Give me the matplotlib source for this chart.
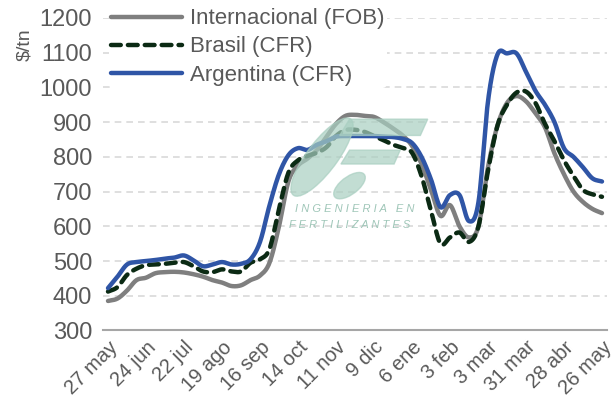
import numpy as np
import matplotlib
matplotlib.use("Agg")
import matplotlib.pyplot as plt
from matplotlib.patches import Polygon, Ellipse

# semanas (etiquetas cada 4 semanas)
tick_labels = ["27 may", "24 jun", "22 jul", "19 ago", "16 sep", "14 oct", "11 nov",
               "9 dic", "6 ene", "3 feb", "3 mar", "31 mar", "28 abr", "26 may"]

internacional = [385, 392, 415, 445, 452, 465, 468, 469, 467, 462, 455, 445, 438, 428,
                 430, 445, 458, 495, 600, 730, 775, 795, 820, 858, 895, 918, 921, 918,
                 915, 900, 882, 862, 832, 780, 705, 630, 661, 600, 568, 600, 770, 890,
                 955, 975, 960, 925, 885, 810, 750, 700, 670, 650, 638]

brasil = [412, 425, 460, 478, 488, 490, 492, 495, 497, 485, 470, 468, 476, 470,
          470, 495, 505, 535, 650, 755, 790, 803, 812, 828, 860, 877, 878, 872,
          860, 848, 835, 826, 812, 745, 645, 550, 568, 582, 555, 600, 760, 890,
          950, 985, 988, 955, 895, 845, 790, 745, 705, 692, 685]

argentina = [422, 455, 490, 497, 500, 503, 507, 510, 516, 502, 485, 490, 497, 490,
             492, 505, 555, 660, 750, 805, 825, 820, 835, 845, 858, 860, 860, 860,
             860, 858, 857, 852, 840, 800, 735, 655, 690, 690, 615, 670, 960, 1095,
             1098, 1098, 1045, 990, 950, 900, 825, 800, 770, 738, 729]

semanas = np.arange(len(internacional))


# linea suavizada tipo excel (catmull-rom entre los puntos)
def suave(x, y, n=12):
    x = np.asarray(x, float)
    y = np.asarray(y, float)
    xp = np.concatenate([[2*x[0]-x[1]], x, [2*x[-1]-x[-2]]])
    yp = np.concatenate([[2*y[0]-y[1]], y, [2*y[-1]-y[-2]]])
    xs, ys = [], []
    t = np.linspace(0, 1, n, endpoint=False)
    for i in range(1, len(xp)-2):
        for arr, out in ((xp, xs), (yp, ys)):
            p0, p1, p2, p3 = arr[i-1], arr[i], arr[i+1], arr[i+2]
            out.extend(0.5*((2*p1) + (-p0+p2)*t + (2*p0-5*p1+4*p2-p3)*t**2
                            + (-p0+3*p1-3*p2+p3)*t**3))
    xs.append(x[-1])
    ys.append(y[-1])
    return np.array(xs), np.array(ys)


plt.rcParams['font.family'] = ['Liberation Sans', 'DejaVu Sans']
txt = '#595959'

fig = plt.figure(figsize=(6.11, 4.08), dpi=100)
ax = fig.add_axes([0.169, 0.19, 0.824, 0.766])

# marca de agua
wm = '#a9cfc1'
fig.patches.append(Polygon([[0.572, 0.708], [0.700, 0.708], [0.688, 0.668], [0.556, 0.668]],
                           closed=True, transform=fig.transFigure, color=wm, alpha=0.7, zorder=0))
fig.patches.append(Polygon([[0.572, 0.632], [0.655, 0.632], [0.645, 0.598], [0.558, 0.598]],
                           closed=True, transform=fig.transFigure, color=wm, alpha=0.7, zorder=0))
fig.patches.append(Ellipse((0.527, 0.615), 0.055, 0.21, angle=-25, transform=fig.transFigure,
                           color=wm, alpha=0.7, zorder=0))
fig.patches.append(Ellipse((0.572, 0.545), 0.035, 0.075, angle=-35, transform=fig.transFigure,
                           color=wm, alpha=0.7, zorder=0))
fig.text(0.483, 0.48, "I N G E N I E R I A   E N", color='#9fc6b8', fontsize=8,
         style='italic', zorder=0)
fig.text(0.473, 0.44, "F E R T I L I Z A N T E S", color='#9fc6b8', fontsize=8,
         style='italic', zorder=0)

x1, y1 = suave(semanas, internacional)
x2, y2 = suave(semanas, brasil)
x3, y3 = suave(semanas, argentina)
ax.plot(x1, y1, color='#7f7f7f', lw=3.2, label='Internacional (FOB)',
        solid_capstyle='round', zorder=3)
ax.plot(x2, y2, color='#0b2a14', lw=3.2, ls=(0, (2.2, 1.6)), label='Brasil (CFR)',
        dash_capstyle='round', zorder=4)
ax.plot(x3, y3, color='#2f55a6', lw=3.2, label='Argentina (CFR)',
        solid_capstyle='round', zorder=5)

ax.set_xlim(-0.5, len(semanas) - 0.5)
ax.set_ylim(300, 1200)
ax.set_yticks(np.arange(300, 1201, 100))
ax.set_xticks(semanas[::4])
ax.set_xticklabels(tick_labels, rotation=45, ha='right', rotation_mode='anchor')
ax.tick_params(axis='both', length=0, colors=txt, labelsize=14.5)
ax.tick_params(axis='y', labelsize=17, pad=8)
ax.tick_params(axis='x', pad=5)
ax.grid(axis='y', color='#d9d9d9', ls=(0, (4, 3)), lw=1.2, zorder=1)
ax.set_axisbelow(True)
for s in ['top', 'right', 'left']:
    ax.spines[s].set_visible(False)
ax.spines['bottom'].set_color('#a6a6a6')
ax.spines['bottom'].set_linewidth(1.5)
ax.patch.set_alpha(0)

fig.text(0.027, 0.89, "$/tn", rotation=90, color=txt, fontsize=14, ha='left', va='center')

leg = ax.legend(loc='upper left', bbox_to_anchor=(0.178, 0.985), bbox_transform=fig.transFigure,
                frameon=True, fontsize=16, handlelength=3.2, handletextpad=0.35,
                labelspacing=0.32, borderpad=0.1, borderaxespad=0.0)
leg.get_frame().set_edgecolor('none')
leg.get_frame().set_facecolor('white')
leg.get_frame().set_alpha(1)
for t in leg.get_texts():
    t.set_color(txt)

fig.savefig('out.png', dpi=100)
